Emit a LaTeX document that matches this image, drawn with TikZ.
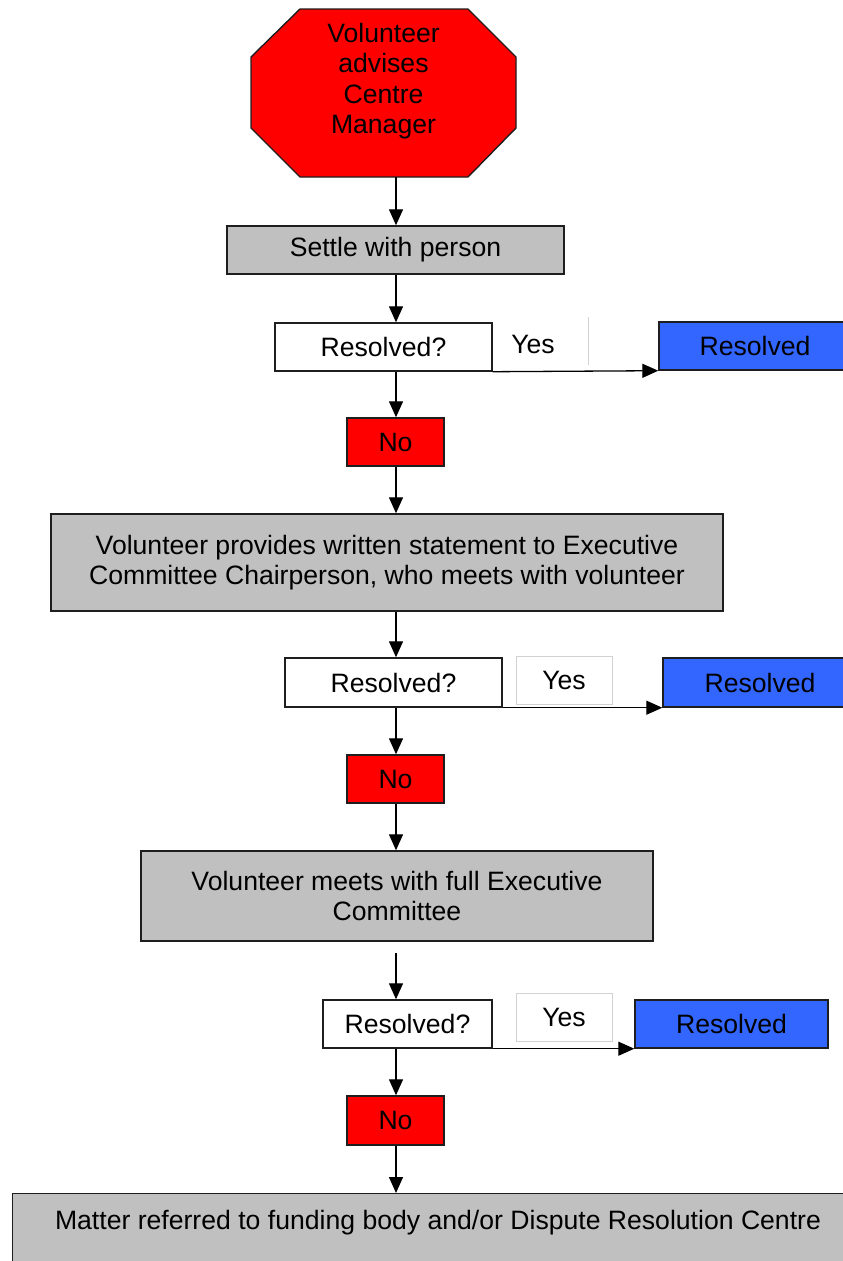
\documentclass[tikz,border=0pt]{standalone}
\usepackage{fontspec}
\setmainfont{Liberation Sans}
\usetikzlibrary{arrows.meta}
\definecolor{boxgray}{RGB}{192,192,192}
\definecolor{boxred}{RGB}{255,0,0}
\definecolor{boxblue}{RGB}{51,102,255}
\definecolor{edge}{RGB}{30,30,30}
\definecolor{faint}{RGB}{210,210,210}
\begin{document}
\begin{tikzpicture}[x=1pt,y=-1pt,
  every node/.style={font=\fontsize{26.6}{30.5}\selectfont, inner sep=0pt, align=center},
  box/.style={rectangle, draw=edge, line width=1.4pt},
  greybox/.style={box, fill=boxgray},
  redbox/.style={box, fill=boxred, minimum width=97pt, minimum height=48pt},
  whitebox/.style={box, fill=white, minimum height=48pt},
  bluebox/.style={box, fill=boxblue, minimum height=48pt},
  yesbox/.style={rectangle, draw=faint, line width=0.9pt, fill=white, minimum width=96pt, minimum height=48pt},
  arr/.style={-{Triangle[length=16pt,width=14pt]}, line width=1.3pt, draw=black}
]
\useasboundingbox (0,0) rectangle (843,1261);

% start octagon
\draw[edge, line width=1.4pt, fill=boxred]
  (300,9) -- (468,9) -- (516,57) -- (516,128) -- (468,177) -- (300,177) -- (251,128) -- (251,57) -- cycle;
\coordinate (octbot) at (396,177);
\node (octtext) at (383.5,81) {Volunteer\\advises\\Centre\\Manager};

\node[greybox, minimum width=337pt, minimum height=48pt] (settle) at (395.5,250) {Settle with person};

% first decision
\node[whitebox, minimum width=217pt] (r1) at (383.5,347) {Resolved?};
\node (yes1) at (533,344) {Yes};
\draw[faint, line width=0.9pt] (588,317) -- (588,365);
\node[bluebox, minimum width=192pt] (b1) at (755,346) {Resolved};
\node[redbox] (no1) at (395.5,442) {No};

\node[greybox, minimum width=672pt, minimum height=97pt] (box2) at (387,562.5)
  {Volunteer provides written statement to Executive\\Committee Chairperson, who meets with volunteer};

% second decision
\node[whitebox, minimum width=217pt, minimum height=49pt] (r2) at (393.5,682.5) {Resolved?};
\node[yesbox] (yes2) at (564,680) {Yes};
\node[bluebox, minimum width=194pt, minimum height=49pt] (b2) at (760,682.5) {Resolved};
\node[redbox] (no2) at (395.5,779) {No};

\node[greybox, minimum width=512pt, minimum height=90pt] (box3) at (397,896)
  {Volunteer meets with full Executive\\Committee};

% third decision
\node[whitebox, minimum width=169pt] (r3) at (407.5,1024) {Resolved?};
\node[yesbox] (yes3) at (564,1017) {Yes};
\node[bluebox, minimum width=193pt] (b3) at (731.5,1024) {Resolved};
\node[redbox, minimum height=49pt] (no3) at (395.5,1120.5) {No};

% final box (runs off the page)
\node[greybox, minimum width=860pt, minimum height=100pt, anchor=north west] (final) at (12,1193) {};
\node (finaltext) at (438,1223) {Matter referred to funding body and/or Dispute Resolution Centre};

% connectors
\coordinate (sp) at (396,0);
\draw[arr] (octbot) -- (settle.north -| sp);
\draw[arr] (settle.south -| sp) -- (r1.north -| sp);
\draw[arr] (r1.south -| sp) -- (no1.north -| sp);
\draw[arr] (no1.south -| sp) -- (box2.north -| sp);
\draw[arr] (box2.south -| sp) -- (r2.north -| sp);
\draw[arr] (r2.south -| sp) -- (no2.north -| sp);
\draw[arr] (no2.south -| sp) -- (box3.north -| sp);
\draw[arr] ([yshift=-11pt]box3.south -| sp) -- (r3.north -| sp);
\draw[arr] (r3.south -| sp) -- (no3.north -| sp);
\draw[arr] (no3.south -| sp) -- (final.north -| sp);

\draw[arr] (r1.south east) -- (b1.south west);
\draw[arr] (r2.south east) -- (b2.south west);
\draw[arr] (r3.south east) -- (b3.south west);
\end{tikzpicture}
\end{document}
